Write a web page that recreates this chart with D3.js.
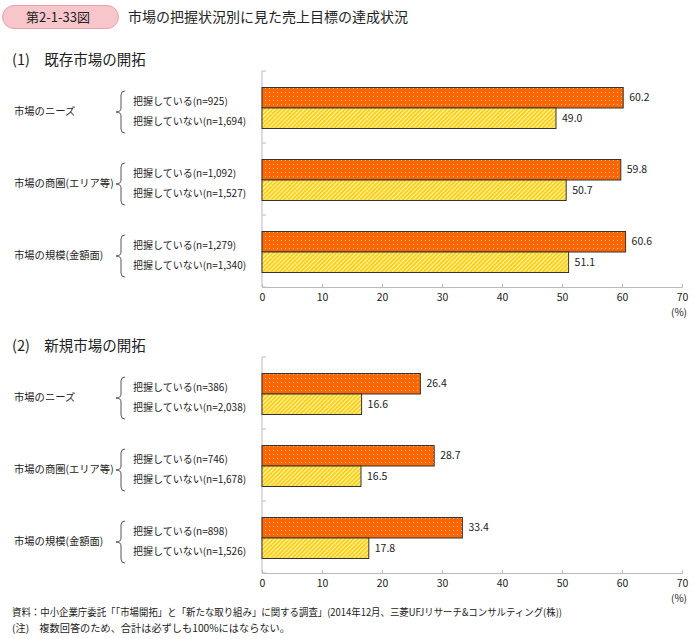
<!DOCTYPE html>
<html><head><meta charset="utf-8">
<script src="https://cdn.jsdelivr.net/npm/d3@7"></script>
<style>
html,body{margin:0;padding:0;background:#fff;}
text{font-family:"Noto Sans CJK JP","Noto Sans",sans-serif;fill:#222;}
</style></head>
<body>
<svg id="chart" width="697" height="639"></svg>
<script>
const figNo = "第2-1-33図";
const figTitle = "市場の把握状況別に見た売上目標の達成状況";
const panelTitles = ["(1)　既存市場の開拓", "(2)　新規市場の開拓"];
const categories = ["市場のニーズ", "市場の商圏(エリア等)", "市場の規模(金額面)"];
const seriesNames = ["把握している", "把握していない"];
const p1HaveN = ["925", "1,092", "1,279"];
const p1NotN = ["1,694", "1,527", "1,340"];
const p1Have = [60.2, 59.8, 60.6];
const p1Not = [49.0, 50.7, 51.1];
const p2HaveN = ["386", "746", "898"];
const p2NotN = ["2,038", "1,678", "1,526"];
const p2Have = [26.4, 28.7, 33.4];
const p2Not = [16.6, 16.5, 17.8];
const xTicks = [0, 10, 20, 30, 40, 50, 60, 70];
const unitLabel = "(%)";
const note1 = "資料：中小企業庁委託「「市場開拓」と「新たな取り組み」に関する調査」(2014年12月、三菱UFJリサーチ&コンサルティング(株))";
const note2 = "(注)　複数回答のため、合計は必ずしも100%にはならない。";

const svg = d3.select("#chart");
const defs = svg.append("defs");

// dotted orange pattern
const pd = defs.append("pattern").attr("id","dots").attr("patternUnits","userSpaceOnUse")
  .attr("width",4).attr("height",4);
pd.append("rect").attr("width",4).attr("height",4).attr("fill","#FF6600");
pd.append("rect").attr("x",1).attr("y",1).attr("width",1).attr("height",1).attr("fill","#FFC8A0");
// hatched yellow pattern
const ph = defs.append("pattern").attr("id","hatch").attr("patternUnits","userSpaceOnUse")
  .attr("width",3).attr("height",3).attr("patternTransform","rotate(45)");
ph.append("rect").attr("width",3).attr("height",3).attr("fill","#FFF4C0");
ph.append("rect").attr("width",1.8).attr("height",3).attr("fill","#FFCC00");

// header
svg.append("rect").attr("x",2.5).attr("y",5.5).attr("width",116).attr("height",23)
  .attr("rx",11.5).attr("ry",11.5).attr("fill","#F7C6CB").attr("stroke","#EBA3AB");
svg.append("text").attr("x",58).attr("y",17).attr("dy","0.35em").attr("text-anchor","middle")
  .attr("font-size",13).text(figNo);
svg.append("text").attr("x",128).attr("y",17).attr("dy","0.35em")
  .attr("font-size",14).text(figTitle);

const x = d3.scaleLinear().domain([0,70]).range([262,682]);

function panel(top, title, have, not, haveN, notN){
  const g = svg.append("g");
  g.append("text").attr("x",12).attr("y",top-11).attr("dy","0.35em").attr("font-size",14.5).text(title);
  const y = d3.scaleBand().domain(categories).range([top, top+216]);
  const inner = d3.scaleBand().domain(seriesNames).range([16,57]);
  const rows = categories.map((c,i)=>({c, vals:[
    {s:seriesNames[0], v:have[i], n:haveN[i]},
    {s:seriesNames[1], v:not[i], n:notN[i]}]}));

  // vertical axis
  const ya = g.append("g").attr("transform",`translate(${x(0)},0)`);
  ya.append("line").attr("y1",top).attr("y2",top+216).attr("stroke","#bbb");
  ya.selectAll("line.t").data(d3.range(4)).join("line").attr("class","t")
    .attr("x1",0).attr("x2",4).attr("y1",d=>top+d*72).attr("y2",d=>top+d*72).attr("stroke","#bbb");

  // bottom axis
  const xa = d3.axisBottom(x).tickValues(xTicks).tickSize(-3).tickPadding(8).tickFormat(d3.format("d"));
  const ax = g.append("g").attr("transform",`translate(0,${top+216})`).call(xa);
  ax.select(".domain").attr("stroke","#bbb");
  ax.selectAll(".tick line").attr("stroke","#bbb");
  ax.selectAll(".tick text").attr("font-size",10.5).attr("font-family","'Noto Sans CJK JP',sans-serif").attr("fill","#222").attr("y",7);
  g.append("text").attr("x",687).attr("y",top+216+25).attr("dy","0.35em").attr("text-anchor","end")
    .attr("font-size",10).text(unitLabel);

  const cg = g.selectAll("g.cat").data(rows).join("g").attr("class","cat")
    .attr("transform",d=>`translate(0,${y(d.c)})`);
  cg.append("text").attr("x",14).attr("y",40).attr("dy","0.35em").attr("font-size",10.3).text(d=>d.c);
  cg.append("path").attr("d","M125,20 Q121,20 121,24 L121,37 Q121,41 116,41 Q121,41 121,45 L121,58 Q121,62 125,62")
    .attr("fill","none").attr("stroke","#555").attr("stroke-width",1);
  cg.selectAll("text.sub").data(d=>d.vals).join("text").attr("class","sub")
    .attr("x",133).attr("y",(d,i)=>i===0?30:50).attr("dy","0.35em").attr("font-size",10)
    .text(d=>`${d.s}(n=${d.n})`);
  cg.selectAll("rect.bar").data(d=>d.vals).join("rect").attr("class","bar")
    .attr("x",x(0)).attr("y",d=>inner(d.s)+0.5).attr("height",inner.bandwidth())
    .attr("width",d=>x(d.v)-x(0))
    .attr("fill",(d,i)=>i===0?"url(#dots)":"url(#hatch)")
    .attr("stroke","#333").attr("stroke-width",1);
  cg.selectAll("text.val").data(d=>d.vals).join("text").attr("class","val")
    .attr("x",d=>x(d.v)+6).attr("y",d=>inner(d.s)+inner.bandwidth()/2+0.5).attr("dy","0.35em")
    .attr("font-size",10.5).text(d=>d.v.toFixed(1));
}
panel(71, panelTitles[0], p1Have, p1Not, p1HaveN, p1NotN);
panel(357, panelTitles[1], p2Have, p2Not, p2HaveN, p2NotN);

svg.append("text").attr("x",12).attr("y",612).attr("dy","0.35em").attr("font-size",10)
  .attr("textLength",550).attr("lengthAdjust","spacingAndGlyphs").text(note1);
svg.append("text").attr("x",12).attr("y",628).attr("dy","0.35em").attr("font-size",10)
  .attr("textLength",278).attr("lengthAdjust","spacingAndGlyphs").text(note2);
</script>
</body></html>
